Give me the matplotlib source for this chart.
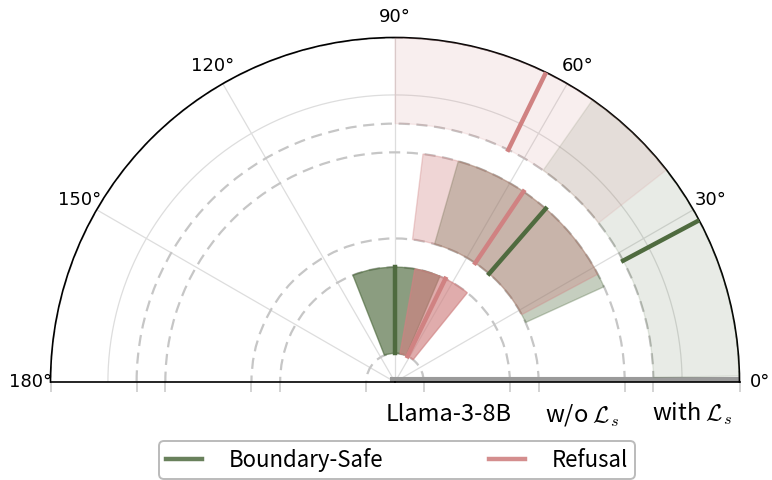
import numpy as np
import matplotlib.pyplot as plt

plt.rcParams['mathtext.fontset'] = 'cm'

# rings (inner -> outer)
models = ['Llama-3-8B', r'w/o $\mathcal{L}_s$', r'with $\mathcal{L}_s$']
ring_bottom = [1, 5, 9]
ring_height = 3
ring_alpha = [0.66, 0.33, 0.13]

# angle ranges (deg) and mean angle for each ring
safe_lo = [67, 24.5, 1]
safe_hi = [111.5, 74, 55]
safe_mean = [90, 49, 28]
refusal_lo = [51, 28, 38]
refusal_hi = [80, 83, 90]
refusal_mean = [64, 56, 64]

green = '#4f6b3f'
red = '#d08282'
font = ['Noto Sans CJK SC', 'DejaVu Sans']

fig = plt.figure(figsize=(7.72, 4.8), dpi=100)
# the half-circle wedge is centred inside a square axes box
R = 344.5
cx, cy = 395, 382
box_cy = cy - R / 2
ax = fig.add_axes([(cx - R) / 772, (480 - box_cy - R) / 480, 2 * R / 772, 2 * R / 480],
                  projection='polar')
ax.set_thetamin(0)
ax.set_thetamax(180)
ax.set_ylim(0, 12)

# grid
ax.set_thetagrids(range(0, 181, 30))
ax.xaxis.grid(True, color='#dddddd', lw=0.9)
ax.tick_params(axis='x', labelsize=13, pad=4)
for lab in ax.get_xticklabels():
    lab.set_family('DejaVu Sans')
edges = [1, 4, 5, 8, 9, 12]
ax.set_yticks(edges)
ax.set_yticklabels([])
ax.yaxis.grid(True, color='#c6c6c6', lw=1.6, linestyle=(0, (5, 3)))
ax.tick_params(axis='y', colors='#d0d0d0', direction='out', length=7, width=1.3,
               left=True, right=True)
th = np.linspace(0, np.pi, 300)
ax.plot(th, np.full_like(th, 10), color='#dddddd', lw=0.9, zorder=1)

for s in ax.spines.values():
    s.set_color('black')
    s.set_linewidth(1.2)

# gray base bar along 0 deg
ax.plot([0, 0], [0, 12], color='#9a9a9a', lw=8, solid_capstyle='projecting', zorder=2)

for i in range(3):
    b = ring_bottom[i]
    a = ring_alpha[i]
    # boundary-safe spread
    lo, hi = np.deg2rad(safe_lo[i]), np.deg2rad(safe_hi[i])
    ax.bar((lo + hi) / 2, ring_height, width=hi - lo, bottom=b,
           color=green, alpha=a, edgecolor=green, lw=1, zorder=3)
    # refusal spread
    lo, hi = np.deg2rad(refusal_lo[i]), np.deg2rad(refusal_hi[i])
    ax.bar((lo + hi) / 2, ring_height, width=hi - lo, bottom=b,
           color=red, alpha=a, edgecolor=red, lw=1, zorder=3)
    # mean lines
    t = np.deg2rad(refusal_mean[i])
    ax.plot([t, t], [b, b + ring_height], color=red, lw=3.2, zorder=4)
    t = np.deg2rad(safe_mean[i])
    ax.plot([t, t], [b, b + ring_height], color=green, lw=3.2, zorder=4)

# ring labels
label_x = [449, 582, 692]
for x, m in zip(label_x, models):
    fig.text(x / 772, 1 - 421 / 480, m, ha='center', va='baseline',
             fontsize=17, family=font)

# legend
handles = [plt.Line2D([], [], color=green, lw=3.2, alpha=0.85),
           plt.Line2D([], [], color=red, lw=3.2, alpha=0.9)]
leg = fig.legend(handles, ['Boundary-Safe', 'Refusal'], loc='center',
                 bbox_to_anchor=(397 / 772, 1 - 460 / 480), ncol=2,
                 prop={'family': font, 'size': 16}, handlelength=1.6,
                 handletextpad=1.2, columnspacing=4.8, borderpad=0.3,
                 frameon=True, fancybox=True)
leg.get_frame().set_edgecolor('#aaaaaa')
leg.get_frame().set_linewidth(1.4)

fig.savefig('out.png', dpi=100)
